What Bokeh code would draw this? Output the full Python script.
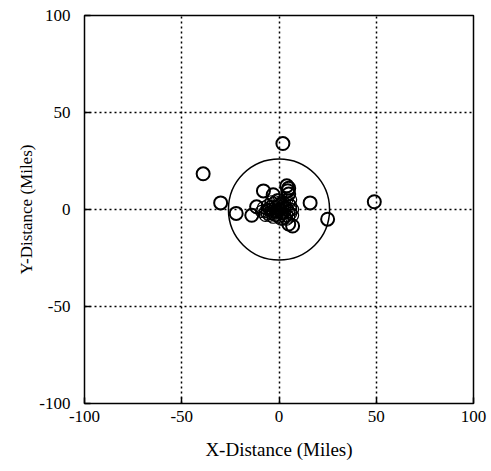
from bokeh.plotting import figure
from bokeh.models import Range1d, FixedTicker, PrintfTickFormatter
from bokeh.embed import file_html
from bokeh.resources import INLINE

# Scattered observation points (miles)
outer_x = [-39, 2, 49, 25, -30, -22, -14, -11.5, -8, -3, 4, 4.5, 5, 5, 16, 5, 7]
outer_y = [18.4, 34, 4, -5, 3.4, -2, -3, 1.4, 9.6, 7.6, 12.2, 9.7, 11, 8, 3.4, -7.5, -8.5]

# Dense cluster around origin
clus_x = [-6, -5, -4, -3, -2, -1, 0, 1, 2, 3, 4, 5, 6, -4, -2, 0, 2, 4, -1, 1,
          3, -3, 0, 2, -5, 5, 6, -7, 7, 1, -2, 3, -1, 4, -6, 0, 2, -3, 5, 6,
          -8, -9, -7, -5, -1, 1, 3, 4, -2, 0, 2, -4, 6, 7, -6, -3]
clus_y = [2, 0, -2, 3, 1, -1, 2, 0, -2, 3, 1, -1, 2, 4, -3, -4, 4, -3, 5, -5,
          -4, -1, 0, 1, -3, 3, -2, -1, 0, 3, 4, -1, -3, 5, -2, 5, -5, -4, -4, 5,
          1, -1, -3, 1, 0, -2, 1, -5, -1, 3, 2, 0, 0, -3, 0, -2]

# Reference circle
ring_x = [0]
ring_y = [0]
ring_r = [26]

ticks = [-100, -50, 0, 50, 100]

p = figure(width=491, height=471, output_backend="svg", toolbar_location=None,
           x_range=Range1d(-100, 100), y_range=Range1d(-100, 100),
           min_border_left=84, min_border_right=18, min_border_top=15,
           min_border_bottom=68, background_fill_color="white",
           border_fill_color="white")

p.outline_line_color = "black"
p.outline_line_width = 1.5

for ax in (p.xaxis, p.yaxis):
    ax.ticker = FixedTicker(ticks=ticks)
    ax.formatter = PrintfTickFormatter(format="%d")
    ax.axis_line_color = None
    ax.major_tick_in = 6
    ax.major_tick_out = 0
    ax.minor_tick_line_color = None
    ax.major_tick_line_color = "black"
    ax.major_tick_line_width = 1.5
    ax.major_label_text_font = "Liberation Serif"
    ax.major_label_text_font_size = "17px"
    ax.major_label_text_color = "black"
    ax.axis_label_text_font = "Liberation Serif"
    ax.axis_label_text_font_style = "normal"
    ax.axis_label_text_color = "black"

p.xaxis.axis_label = "X-Distance (Miles)"
p.yaxis.axis_label = "Y-Distance (Miles)"
p.xaxis.axis_label_text_font_size = "19px"
p.yaxis.axis_label_text_font_size = "17px"
p.xaxis.major_label_standoff = 7
p.xaxis.axis_label_standoff = 14
p.yaxis.major_label_standoff = 14
p.yaxis.axis_label_standoff = 0

for g in (p.xgrid, p.ygrid):
    g.ticker = FixedTicker(ticks=[-50, 0, 50])
    g.grid_line_color = "black"
    g.grid_line_dash = "2 3"
    g.grid_line_width = 1.5

p.circle(x=ring_x, y=ring_y, radius=ring_r, fill_color=None,
         line_color="black", line_width=1.5)

p.scatter(x=clus_x, y=clus_y, size=12, marker="circle", fill_color=None,
          line_color="black", line_width=1.2)
p.scatter(x=outer_x, y=outer_y, size=13, marker="circle", fill_color=None,
          line_color="black", line_width=2)

open("out.html", "w").write(file_html(p, INLINE))
